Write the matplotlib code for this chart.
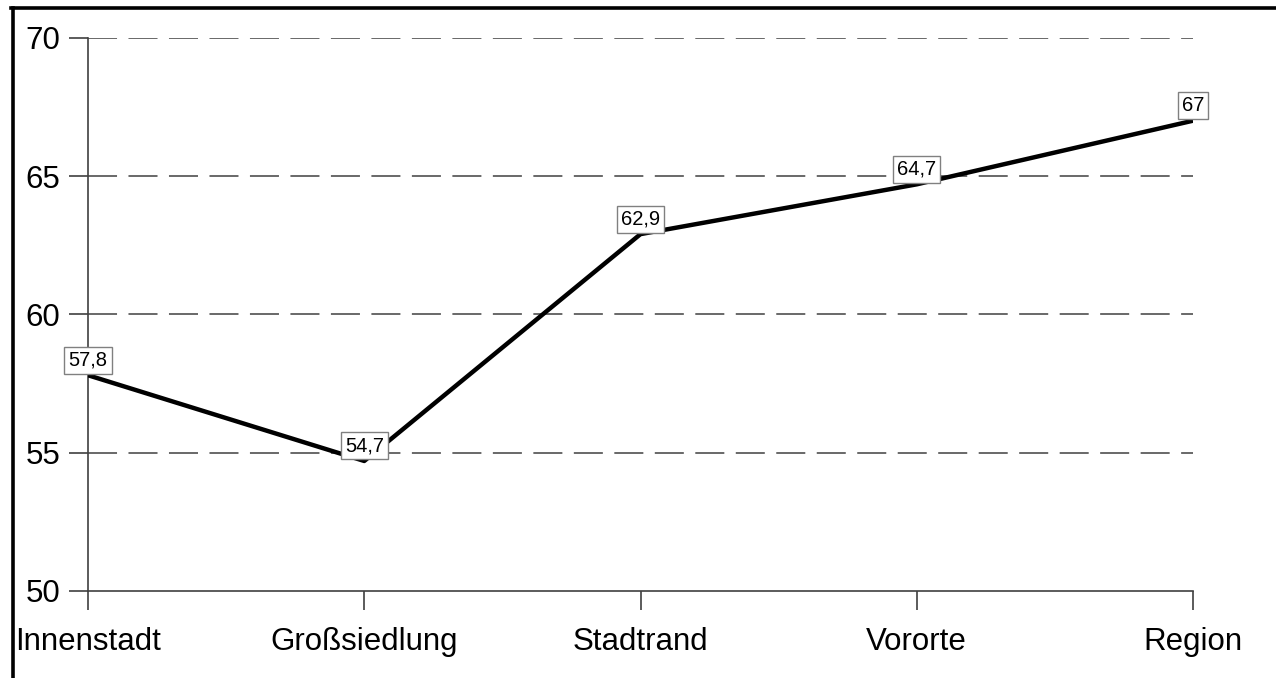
import matplotlib.pyplot as plt
from matplotlib.lines import Line2D

# Data
categories = ["Innenstadt", "Großsiedlung", "Stadtrand", "Vororte", "Region"]
values = [57.8, 54.7, 62.9, 64.7, 67.0]
value_labels = ["57,8", "54,7", "62,9", "64,7", "67"]
y_ticks = [50, 55, 60, 65, 70]

plt.rcParams['font.family'] = ['Liberation Sans', 'DejaVu Sans']

fig = plt.figure(figsize=(12.76, 6.78), dpi=100)
ax = fig.add_axes([88 / 1276, 1 - 591 / 678, (1193 - 88) / 1276, (591 - 37.7) / 678])

x = list(range(len(categories)))
ax.plot(x, values, color="black", linewidth=3.2, solid_capstyle="butt", zorder=3)

# value labels in small boxes, bottom-centre at each point
for xi, yi, lab in zip(x, values, value_labels):
    ax.annotate(lab, (xi, yi), xytext=(0, 4), textcoords="offset points",
                ha="center", va="bottom", fontsize=14.5, zorder=4,
                bbox=dict(boxstyle="square,pad=0.2", facecolor="white",
                          edgecolor="#808080", linewidth=1.0))

ax.set_xlim(0, 4)
ax.set_ylim(50, 70)
ax.set_yticks(y_ticks)
ax.set_xticks(x)
ax.set_xticklabels(categories)

# dashed horizontal gridlines (not at 50)
for yt in y_ticks[1:]:
    ax.axhline(yt, color="#404040", linewidth=1.1, dashes=(19, 7.5), zorder=1)

for side in ["top", "right"]:
    ax.spines[side].set_visible(False)
for side in ["left", "bottom"]:
    ax.spines[side].set_color("#404040")
    ax.spines[side].set_linewidth(1.2)

ax.tick_params(axis="both", direction="out", length=14, width=1.2,
               color="#404040", labelsize=22.5)
ax.tick_params(axis="y", pad=6)
ax.tick_params(axis="x", pad=12)

# thick frame lines on left and top of the figure
fig.add_artist(Line2D([12.5 / 1276, 12.5 / 1276], [0, 1 - 7.5 / 678],
                      transform=fig.transFigure, color="black", linewidth=2.6))
fig.add_artist(Line2D([11 / 1276, 1], [1 - 7.5 / 678, 1 - 7.5 / 678],
                      transform=fig.transFigure, color="black", linewidth=2.6))

fig.savefig("out.png", dpi=100)
